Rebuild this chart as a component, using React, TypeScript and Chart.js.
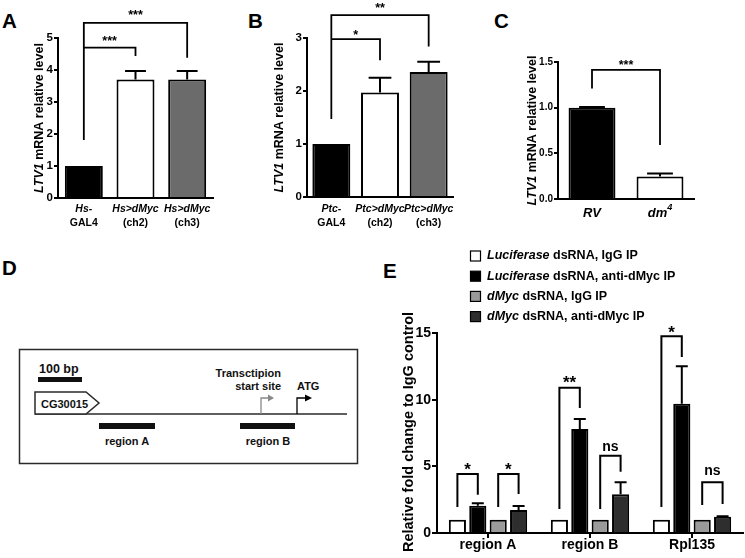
import React, { useEffect, useRef } from "react";
import { Chart, registerables } from "chart.js";

Chart.register(...registerables);

const FONT = '"Liberation Sans", Arial, Helvetica, sans-serif';

// ===== Panel A data =====
const labelsA1 = ["Hs-", "Hs>dMyc", "Hs>dMyc"];
const labelsA2 = ["GAL4", "(ch2)", "(ch3)"];
const valuesA = [1.0, 3.7, 3.7];
const errorsA = [0, 0.27, 0.27];
const colorsA = ["#000000", "#ffffff", "#6b6b6b"];
const ticksA = [0, 1, 2, 3, 4, 5];
const bracketsA = [
  { from: 0, to: 2, top: 5.47, left: 1.81, right: 4.38, label: "***", at: 5.81 },
  { from: 0, to: 1, top: 4.7, left: 4.7, right: 4.44, label: "***", at: 5.0 },
];

// ===== Panel B data =====
const labelsB1 = ["Ptc-", "Ptc>dMyc", "Ptc>dMyc"];
const labelsB2 = ["GAL4", "(ch2)", "(ch3)"];
const valuesB = [1.0, 1.97, 2.36];
const errorsB = [0, 0.28, 0.19];
const colorsB = ["#000000", "#ffffff", "#6b6b6b"];
const ticksB = [0, 1, 2, 3];
const bracketsB = [
  { from: 0, to: 2, top: 3.43, left: 1.47, right: 2.84, label: "**", at: 3.62 },
  { from: 0, to: 1, top: 2.98, left: 2.98, right: 2.58, label: "*", at: 3.12 },
];

// ===== Panel C data =====
const labelsC = ["RV", "dm"];
const supC = ["", "4"];
const valuesC = [1.0, 0.245];
const errorsC = [0.006, 0.035];
const colorsC = ["#000000", "#ffffff"];
const ticksC = [0, 0.5, 1.0, 1.5];
const bracketsC = [{ from: 0, to: 1, top: 1.414, left: 1.21, right: 0.59, label: "***", at: 1.5 }];

// ===== Panel E data =====
const groupsE = ["region A", "region B", "Rpl135"];
const legendItalicE = ["Luciferase", "Luciferase", "dMyc", "dMyc"];
const legendRestE = [" dsRNA, IgG IP", " dsRNA, anti-dMyc IP", " dsRNA, IgG IP", " dsRNA, anti-dMyc IP"];
const lucIgG = [1, 1, 1];
const lucAnti = [2.05, 7.8, 9.7];
const lucAntiErr = [0.18, 0.75, 2.8];
const dmycIgG = [1, 1, 1];
const dmycAnti = [1.72, 2.9, 1.22];
const dmycAntiErr = [0.3, 0.9, 0.04];
const colorsE = ["#ffffff", "#000000", "#9a9a9a", "#2e2e2e"];
const ticksE = [0, 5, 10, 15];
const bracketsE = [
  { group: 0, from: 0, to: 1, top: 4.43, left: 1.95, right: 2.86, label: "*", at: 5.1 },
  { group: 0, from: 2, to: 3, top: 4.43, left: 1.95, right: 2.93, label: "*", at: 5.1 },
  { group: 1, from: 0, to: 1, top: 10.9, left: 1.8, right: 9.37, label: "**", at: 11.63 },
  { group: 1, from: 2, to: 3, top: 5.79, left: 1.8, right: 4.59, label: "ns", at: 6.45 },
  { group: 2, from: 0, to: 1, top: 14.76, left: 1.95, right: 13.2, label: "*", at: 15.4 },
  { group: 2, from: 2, to: 3, top: 3.8, left: 2.1, right: 2.18, label: "ns", at: 4.6 },
];

type Seg = { t: string; i?: boolean; sup?: boolean };

function font(size: number, italic = false) {
  return `${italic ? "italic " : ""}bold ${size}px ${FONT}`;
}

function drawSegs(ctx: CanvasRenderingContext2D, segs: Seg[], x: number, y: number, size: number, align = "center") {
  const ws = segs.map((s) => {
    ctx.font = font(s.sup ? size * 0.7 : size, s.i);
    return ctx.measureText(s.t).width;
  });
  const total = ws.reduce((a, b) => a + b, 0);
  let cx = align === "center" ? x - total / 2 : align === "right" ? x - total : x;
  ctx.textAlign = "left";
  ctx.textBaseline = "middle";
  segs.forEach((s, k) => {
    ctx.font = font(s.sup ? size * 0.7 : size, s.i);
    ctx.fillText(s.t, cx, s.sup ? y - size * 0.4 : y);
    cx += ws[k];
  });
}

function drawSig(ctx: CanvasRenderingContext2D, label: string, x: number, yc: number, size: number) {
  ctx.font = font(size);
  ctx.textAlign = "center";
  ctx.textBaseline = "alphabetic";
  const off = label.includes("*") ? 0.58 : 0.26;
  ctx.fillText(label, x, yc + off * size);
}

function drawBracket(ctx: CanvasRenderingContext2D, x1: number, x2: number, yT: number, yL: number, yR: number) {
  ctx.beginPath();
  ctx.moveTo(x1, yL);
  ctx.lineTo(x1, yT);
  ctx.lineTo(x2, yT);
  ctx.lineTo(x2, yR);
  ctx.stroke();
}

function drawErr(ctx: CanvasRenderingContext2D, bar: any, yBase: number, yTop: number, capW: number, lw: number) {
  ctx.save();
  ctx.strokeStyle = "#000";
  ctx.lineWidth = lw;
  ctx.beginPath();
  ctx.moveTo(bar.x, yBase);
  ctx.lineTo(bar.x, yTop);
  ctx.moveTo(bar.x - capW / 2, yTop);
  ctx.lineTo(bar.x + capW / 2, yTop);
  ctx.stroke();
  ctx.restore();
}

type Geom = {
  left: number; top: number; width: number; height: number;
  padTop: number; padRight: number; yWidth: number; xHeight: number;
  titleX: number; barPct: number; capFrac: number; tickSize: number;
  labelSize: number; starSize: number; line1Y: number; line2Y: number;
};

type PanelSpec = {
  labels: string[];
  xLines: Seg[][][];
  values: number[];
  errors: number[];
  colors: string[];
  yTicks: number[];
  fmt: (v: number) => string;
  brackets: { from: number; to: number; top: number; left: number; right: number; label: string; at: number }[];
  title: Seg[];
  geom: Geom;
};

function BarPanel({ spec }: { spec: PanelSpec }) {
  const ref = useRef<HTMLCanvasElement>(null);
  const g = spec.geom;
  useEffect(() => {
    const annot = {
      id: "annot",
      afterDraw(chart: any) {
        const ctx: CanvasRenderingContext2D = chart.ctx;
        const y = chart.scales.y;
        const area = chart.chartArea;
        const meta = chart.getDatasetMeta(0);
        ctx.save();
        ctx.fillStyle = "#000";
        ctx.strokeStyle = "#000";
        meta.data.forEach((bar: any, i: number) => {
          const e = spec.errors[i];
          if (!e) return;
          drawErr(ctx, bar, y.getPixelForValue(spec.values[i]), y.getPixelForValue(spec.values[i] + e), bar.width * g.capFrac, 2);
        });
        ctx.lineWidth = 1.8;
        spec.brackets.forEach((b) => {
          const x1 = meta.data[b.from].x;
          const x2 = meta.data[b.to].x;
          drawBracket(ctx, x1, x2, y.getPixelForValue(b.top), y.getPixelForValue(b.left), y.getPixelForValue(b.right));
          drawSig(ctx, b.label, (x1 + x2) / 2, y.getPixelForValue(b.at), g.starSize);
        });
        spec.xLines.forEach((lines, i) => {
          const x = chart.scales.x.getPixelForValue(i);
          lines.forEach((segs, k) => {
            drawSegs(ctx, segs, x, k === 0 ? g.line1Y : g.line2Y, g.labelSize);
          });
        });
        ctx.translate(g.titleX, (area.top + area.bottom) / 2);
        ctx.rotate(-Math.PI / 2);
        drawSegs(ctx, spec.title, 0, 0, 12.5);
        ctx.restore();
      },
    };
    const chart = new Chart(ref.current!, {
      type: "bar",
      data: {
        labels: spec.labels,
        datasets: [
          {
            data: spec.values,
            backgroundColor: spec.colors,
            borderColor: "#000",
            borderWidth: 2,
            borderSkipped: "start",
            barPercentage: g.barPct,
            categoryPercentage: 1,
          } as any,
        ],
      },
      options: {
        animation: false,
        responsive: false,
        maintainAspectRatio: false,
        events: [],
        layout: { padding: { top: g.padTop, right: g.padRight, left: 0, bottom: 0 } },
        plugins: { legend: { display: false }, tooltip: { enabled: false } },
        scales: {
          x: {
            grid: { display: false },
            border: { display: true, color: "#000", width: 2 },
            ticks: { display: false },
            afterFit: (s: any) => {
              s.height = g.xHeight;
            },
          },
          y: {
            min: 0,
            max: spec.yTicks[spec.yTicks.length - 1],
            afterBuildTicks: (s: any) => {
              s.ticks = spec.yTicks.map((v) => ({ value: v }));
            },
            grid: { display: true, drawOnChartArea: false, drawTicks: true, tickLength: 4, color: "#000", lineWidth: 2 },
            border: { display: true, color: "#000", width: 2 },
            ticks: {
              color: "#000",
              font: { family: FONT, size: g.tickSize, weight: "bold" },
              padding: 1,
              callback: (v: any) => spec.fmt(Number(v)),
            },
            afterFit: (s: any) => {
              s.width = g.yWidth;
            },
          },
        },
      } as any,
      plugins: [annot],
    });
    return () => chart.destroy();
  }, []);
  return (
    <canvas
      ref={ref}
      width={g.width}
      height={g.height}
      style={{ position: "absolute", left: g.left, top: g.top, width: g.width, height: g.height }}
    />
  );
}

const ltvTitle: Seg[] = [{ t: "LTV1", i: true }, { t: " mRNA relative level" }];

const specA: PanelSpec = {
  labels: labelsA1.map((l, i) => l + " " + labelsA2[i]),
  xLines: labelsA1.map((l, i) => [[{ t: l, i: true }], [{ t: labelsA2[i] }]]),
  values: valuesA,
  errors: errorsA,
  colors: colorsA,
  yTicks: ticksA,
  fmt: (v) => String(v),
  brackets: bracketsA,
  title: ltvTitle,
  geom: {
    left: 0, top: 0, width: 240, height: 250, padTop: 38, padRight: 27, yWidth: 58, xHeight: 52,
    titleX: 40, barPct: 0.735, capFrac: 0.55, tickSize: 11.5, labelSize: 10.5, starSize: 12.5, line1Y: 209.5, line2Y: 223,
  },
};

const specB: PanelSpec = {
  labels: labelsB1.map((l, i) => l + " " + labelsB2[i]),
  xLines: labelsB1.map((l, i) => [[{ t: l, i: true }], [{ t: labelsB2[i] }]]),
  values: valuesB,
  errors: errorsB,
  colors: colorsB,
  yTicks: ticksB,
  fmt: (v) => String(v),
  brackets: bracketsB,
  title: ltvTitle,
  geom: {
    left: 240, top: 0, width: 240, height: 250, padTop: 38, padRight: 27, yWidth: 67, xHeight: 53,
    titleX: 40, barPct: 0.78, capFrac: 0.6, tickSize: 11.5, labelSize: 10.5, starSize: 12.5, line1Y: 209.5, line2Y: 223,
  },
};

const specC: PanelSpec = {
  labels: labelsC.map((l, i) => l + supC[i]),
  xLines: labelsC.map((l, i) => [[{ t: l, i: true }, { t: supC[i], i: true, sup: true }]]),
  values: valuesC,
  errors: errorsC,
  colors: colorsC,
  yTicks: ticksC,
  fmt: (v) => v.toFixed(1),
  brackets: bracketsC,
  title: ltvTitle,
  geom: {
    left: 480, top: 0, width: 265, height: 240, padTop: 62, padRight: 51, yWidth: 78, xHeight: 41,
    titleX: 53, barPct: 0.69, capFrac: 0.55, tickSize: 10, labelSize: 13, starSize: 12.5, line1Y: 213, line2Y: 226,
  },
};

function PanelE() {
  const ref = useRef<HTMLCanvasElement>(null);
  useEffect(() => {
    const series = [lucIgG, lucAnti, dmycIgG, dmycAnti];
    const errs: (number[] | null)[] = [null, lucAntiErr, null, dmycAntiErr];
    const annot = {
      id: "annotE",
      afterDraw(chart: any) {
        const ctx: CanvasRenderingContext2D = chart.ctx;
        const y = chart.scales.y;
        const area = chart.chartArea;
        ctx.save();
        ctx.fillStyle = "#000";
        ctx.strokeStyle = "#000";
        series.forEach((d, k) => {
          const meta = chart.getDatasetMeta(k);
          const e = errs[k];
          if (!e) return;
          meta.data.forEach((bar: any, i: number) => {
            drawErr(ctx, bar, y.getPixelForValue(d[i]), y.getPixelForValue(d[i] + e[i]), bar.width * 0.7, 2);
          });
        });
        ctx.lineWidth = 2;
        bracketsE.forEach((b) => {
          const x1 = chart.getDatasetMeta(b.from).data[b.group].x;
          const x2 = chart.getDatasetMeta(b.to).data[b.group].x;
          drawBracket(ctx, x1, x2, y.getPixelForValue(b.top), y.getPixelForValue(b.left), y.getPixelForValue(b.right));
          drawSig(ctx, b.label, (x1 + x2) / 2, y.getPixelForValue(b.at), b.label === "ns" ? 14 : 17);
        });
        groupsE.forEach((gname, i) => {
          drawSegs(ctx, [{ t: gname }], chart.scales.x.getPixelForValue(i), area.bottom + 12, 14);
        });
        legendItalicE.forEach((it, k) => {
          const cy = 16 + k * 20.2;
          ctx.fillStyle = colorsE[k];
          ctx.fillRect(100.5, cy - 5, 10, 10);
          ctx.lineWidth = 1.2;
          ctx.strokeStyle = "#000";
          ctx.strokeRect(100.5, cy - 5, 10, 10);
          ctx.fillStyle = "#000";
          drawSegs(ctx, [{ t: it, i: true }, { t: legendRestE[k] }], 117, cy, 12.5, "left");
        });
        ctx.translate(39, (area.top + area.bottom) / 2 - 1);
        ctx.rotate(-Math.PI / 2);
        drawSegs(ctx, [{ t: "Relative fold change to IgG control" }], 0, 0, 14.5);
        ctx.restore();
      },
    };
    const chart = new Chart(ref.current!, {
      type: "bar",
      data: {
        labels: groupsE,
        datasets: series.map((d, k) => ({
          label: legendItalicE[k] + legendRestE[k],
          data: d,
          backgroundColor: colorsE[k],
          borderColor: "#000",
          borderWidth: 2,
          borderSkipped: "start",
          barPercentage: 0.84,
          categoryPercentage: 0.8,
        })) as any,
      },
      options: {
        animation: false,
        responsive: false,
        maintainAspectRatio: false,
        events: [],
        layout: { padding: { top: 93, right: 2, left: 0, bottom: 0 } },
        plugins: { legend: { display: false }, tooltip: { enabled: false } },
        scales: {
          x: {
            grid: { display: true, drawOnChartArea: false, drawTicks: true, tickLength: 5, offset: false, color: "#000", lineWidth: 2 },
            border: { display: true, color: "#000", width: 2 },
            ticks: { display: false },
            afterFit: (s: any) => {
              s.height = 25;
            },
          },
          y: {
            min: 0,
            max: 15,
            afterBuildTicks: (s: any) => {
              s.ticks = ticksE.map((v) => ({ value: v }));
            },
            grid: { display: true, drawOnChartArea: false, drawTicks: true, tickLength: 5, color: "#000", lineWidth: 2 },
            border: { display: true, color: "#000", width: 2 },
            ticks: { color: "#000", font: { family: FONT, size: 14, weight: "bold" }, padding: 1 },
            afterFit: (s: any) => {
              s.width = 67;
            },
          },
        },
      } as any,
      plugins: [annot],
    });
    return () => chart.destroy();
  }, []);
  return (
    <canvas ref={ref} width={375} height={318} style={{ position: "absolute", left: 370, top: 240, width: 375, height: 318 }} />
  );
}

function Underlay() {
  const dark = "#2a2a2a";
  return (
    <svg width={745} height={558} style={{ position: "absolute", left: 0, top: 0 }}>
      <g fontFamily={FONT} fontWeight="bold" fill="#000">
        <text x={2} y={28} fontSize={20.5}>A</text>
        <text x={248} y={28} fontSize={20.5}>B</text>
        <text x={494} y={28} fontSize={20.5}>C</text>
        <text x={2} y={275} fontSize={20.5}>D</text>
        <text x={383} y={278} fontSize={20.5}>E</text>
      </g>
      {/* Panel D schematic */}
      <rect x={19.5} y={349.5} width={338} height={114} fill="#fff" stroke={dark} strokeWidth={1.5} />
      <rect x={38} y={377} width={44} height={5} fill="#111" />
      <line x1={35} y1={414} x2={347} y2={414} stroke={dark} strokeWidth={1.5} />
      <polygon points="35,392 86,392 99,403 86,414 35,414" fill="#fff" stroke={dark} strokeWidth={1.5} />
      <rect x={99} y={423} width={56} height={6} fill="#111" />
      <rect x={240} y={423} width={55} height={6} fill="#111" />
      <polyline points="261,414 261,398 269,398" fill="none" stroke="#888" strokeWidth={1.3} />
      <polygon points="268,394.5 274,398 268,401.5" fill="#888" />
      <polyline points="297,414 297,398 306,398" fill="none" stroke="#000" strokeWidth={1.3} />
      <polygon points="305,394.5 312,398 305,401.5" fill="#000" />
      <g fontFamily={FONT} fontWeight="bold" fill="#111">
        <text x={39} y={372.5} fontSize={12.5}>100 bp</text>
        <text x={41} y={407.5} fontSize={11}>CG30015</text>
        <text x={127} y={445} fontSize={11} textAnchor="middle">region  A</text>
        <text x={268} y={445} fontSize={11} textAnchor="middle">region B</text>
        <text x={281} y={376.5} fontSize={11} textAnchor="end">Transctipion</text>
        <text x={281} y={390} fontSize={11} textAnchor="end">start site</text>
        <text x={297} y={390} fontSize={11}>ATG</text>
      </g>
    </svg>
  );
}

export default function App() {
  return (
    <div style={{ position: "absolute", left: 0, top: 0, width: 745, height: 558, background: "#fff", overflow: "hidden" }}>
      <Underlay />
      <BarPanel spec={specA} />
      <BarPanel spec={specB} />
      <BarPanel spec={specC} />
      <PanelE />
    </div>
  );
}
